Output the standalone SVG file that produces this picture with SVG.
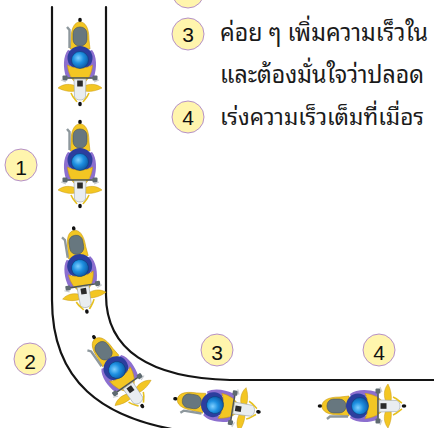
<svg xmlns="http://www.w3.org/2000/svg" xmlns:xlink="http://www.w3.org/1999/xlink" width="434" height="428" viewBox="0 0 434 428">
  <style>
    .road { fill: none; stroke: #141414; stroke-width: 2.2; stroke-linecap: round; }
    .badge { fill: #fff5ad; stroke: #b590c8; stroke-width: 1; }
    .num { font-family: "Liberation Sans", Arial, sans-serif; font-size: 21px; fill: #111; text-anchor: middle; }
    .note { font-family: "Noto Sans Thai Looped", "Noto Serif Thai", "Noto Sans Thai", "Noto Sans", "DejaVu Sans", sans-serif; font-size: 24px; fill: #1a1a1a; }
    .note.tight { font-size: 23px; }
  </style>
  <defs>
    <radialGradient id="helmetGrad" cx="0.4" cy="0.38" r="0.7">
      <stop offset="0" stop-color="#7fd0ff"/>
      <stop offset="0.45" stop-color="#1d8fe0"/>
      <stop offset="1" stop-color="#0b4f9a"/>
    </radialGradient>
    <!-- motorcycle seen from above, origin at the helmet, front towards +y -->
    <g id="bike">
      <ellipse cx="0" cy="-40" rx="1.8" ry="2.3" fill="#111"/>
      <path d="M-9,-20 C-9,-33 -5,-38 0,-38 C5,-38 9,-33 9,-20 L10,-11 L-10,-11 Z" fill="#f3c623" stroke="#c99a12" stroke-width="0.6"/>
      <rect x="-7" y="-33" width="14" height="19" rx="6.5" fill="#67777f" stroke="#4a565c" stroke-width="0.6"/>
      <path d="M-13,-33 L-10.5,-30 L-10.5,-12" fill="none" stroke="#8e989d" stroke-width="2.4"/>
      <path d="M-12,-10 C-17,-4 -17,8 -14,17 L-9,18 C-11,8 -10,-2 -6,-8 Z" fill="#8c6fcf"/>
      <path d="M12,-10 C17,-4 17,8 14,17 L9,18 C11,8 10,-2 6,-8 Z" fill="#8c6fcf"/>
      <ellipse cx="0" cy="-2" rx="12.5" ry="12" fill="#2c3e9e"/>
      <path d="M-12.5,5 C-12,13 -8,20 -4,23 L4,23 C8,20 12,13 12.5,5 C7,9 -7,9 -12.5,5 Z" fill="#f3c623" stroke="#c99a12" stroke-width="0.6"/>
      <circle cx="0" cy="0" r="8.5" fill="url(#helmetGrad)" stroke="#0a3f7a" stroke-width="0.6"/>
      <line x1="-15" y1="18" x2="15" y2="18" stroke="#4d555a" stroke-width="1.6"/>
      <rect x="-17.5" y="15.5" width="5" height="5" rx="1" fill="#5e6a70"/>
      <rect x="12.5" y="15.5" width="5" height="5" rx="1" fill="#5e6a70"/>
      <path d="M-22,28 C-16,23 -9,24 -4,26 L-4,31 C-10,32 -16,31 -22,28 Z" fill="#f3c623" stroke="#c99a12" stroke-width="0.5"/>
      <path d="M22,28 C16,23 9,24 4,26 L4,31 C10,32 16,31 22,28 Z" fill="#f3c623" stroke="#c99a12" stroke-width="0.5"/>
      <path d="M-14,22 L-19,20 M14,22 L19,20" stroke="#c8ccd0" stroke-width="1.2"/>
      <path d="M-6,19 L6,19 L5.5,37 C3.5,41 -3.5,41 -5.5,37 Z" fill="#e9edf0" stroke="#9aa3a8" stroke-width="0.6"/>
      <rect x="-2.8" y="20.5" width="5.6" height="6" fill="#2a2a2a"/>
      <path d="M-9,33 C-7,38 -4,40 -3,42 M9,33 C7,38 4,40 3,42" fill="none" stroke="#e6c020" stroke-width="1.6"/>
      <ellipse cx="0" cy="44" rx="1.8" ry="2.3" fill="#111"/>
    </g>
  </defs>

  <!-- road edges -->
  <g id="connectors">
    <path class="road" d="M52,7 L52,300 C52,380 100,420 190,432"/>
    <path class="road" d="M106,7 L106,295 C106,350 150,378 230,380 L436,380"/>
  </g>

  <!-- riders along the lane -->
  <g id="bike-1"><use xlink:href="#bike" transform="translate(80,60)"/></g>
  <g id="bike-2"><use xlink:href="#bike" transform="translate(80,162)"/></g>
  <g id="bike-3"><use xlink:href="#bike" transform="translate(80,268) rotate(-9)"/></g>
  <g id="bike-4"><use xlink:href="#bike" transform="translate(117,370) rotate(-35)"/></g>
  <g id="bike-5"><use xlink:href="#bike" transform="translate(215,405) rotate(-81)"/></g>
  <g id="bike-6"><use xlink:href="#bike" transform="translate(360,406) rotate(-90)"/></g>

  <!-- stage markers on the road -->
  <g id="marker-1"><circle class="badge" cx="21" cy="165" r="16"/><text class="num" x="21" y="174.5">1</text></g>
  <g id="marker-2"><circle class="badge" cx="30" cy="359" r="16"/><text class="num" x="30" y="368.5">2</text></g>
  <g id="marker-3"><circle class="badge" cx="217" cy="350" r="16"/><text class="num" x="217" y="359.5">3</text></g>
  <g id="marker-4"><circle class="badge" cx="379" cy="350" r="16"/><text class="num" x="379" y="359.5">4</text></g>

  <!-- legend -->
  <g id="legend-2"><circle class="badge" cx="188" cy="-8" r="16"/></g>
  <g id="legend-3">
    <circle class="badge" cx="188" cy="34" r="16"/>
    <text class="num" x="188" y="42">3</text>
    <text class="note" x="220" y="41" textLength="208" lengthAdjust="spacingAndGlyphs">ค่อย ๆ เพิ่มความเร็วใน</text>
    <text class="note" x="220" y="83" textLength="204" lengthAdjust="spacingAndGlyphs">และต้องมั่นใจว่าปลอด</text>
  </g>
  <g id="legend-4">
    <circle class="badge" cx="188" cy="117" r="16"/>
    <text class="num" x="188" y="125">4</text>
    <text class="note tight" x="220" y="125" textLength="204" lengthAdjust="spacingAndGlyphs">เร่งความเร็วเต็มที่เมื่อร</text>
  </g>
</svg>
